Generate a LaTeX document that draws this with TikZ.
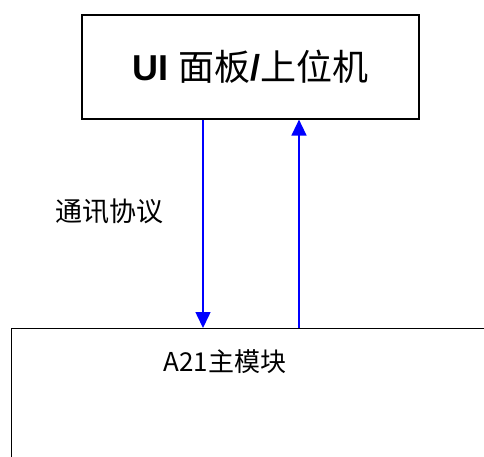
\documentclass[tikz,border=0pt]{standalone}
\usepackage{fontspec}
\setsansfont{Liberation Sans}
\newfontfamily\cjk{Noto Sans CJK SC}
\usetikzlibrary{arrows.meta}

\begin{document}
\begin{tikzpicture}[x=1pt,y=1pt,line width=1.2pt,box/.style={rectangle,draw,inner sep=0pt},link/.style={blue,line width=1.5pt,-{Triangle[length=16pt,width=15pt]}}]
  \useasboundingbox (0,0) rectangle (484,-456);
  \node[box,minimum width=337pt,minimum height=104pt,font=\fontsize{36}{40}\selectfont] (ui) at (250.5,-67) {{\sffamily\bfseries UI} {\cjk 面板}{\sffamily\bfseries /}{\cjk 上位机}};
  \node[box,anchor=north west,minimum width=500pt,minimum height=160pt] (main) at (11,-328) {};
  \node[font={\cjk\fontsize{26}{30}\selectfont}] (mainname) at (225,-362) {A21主模块};
  \node[font={\cjk\fontsize{27}{30}\selectfont}] (proto) at (109,-211) {通讯协议};

  \draw[link] ([xshift=-47.5pt]ui.south) -- ([xshift=-47.5pt]ui.south |- main.north);
  \draw[link] ([xshift=48.5pt]ui.south |- main.north) -- ([xshift=48.5pt]ui.south);
\end{tikzpicture}
\end{document}
